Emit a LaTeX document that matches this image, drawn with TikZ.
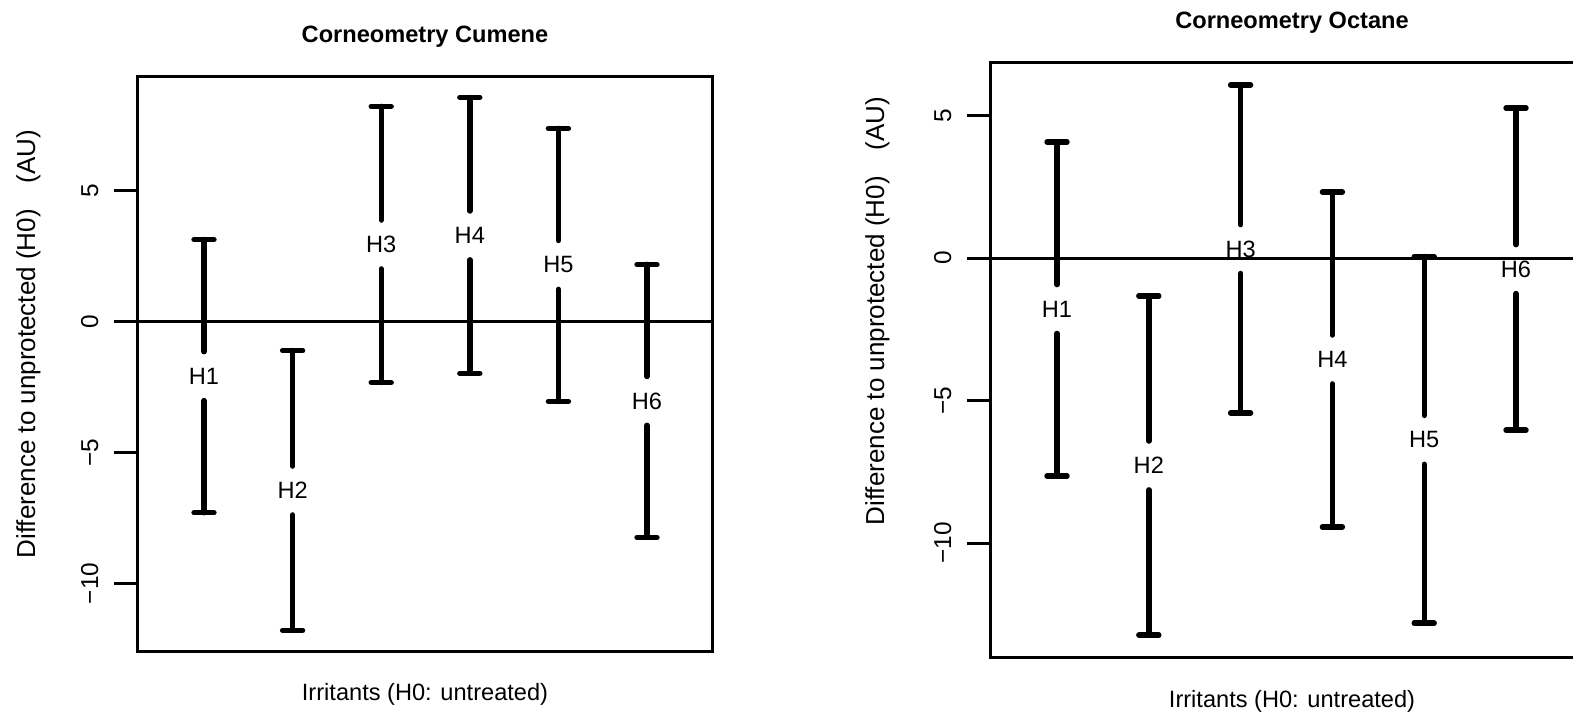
\documentclass[tikz,border=0pt]{standalone}
\usepackage{fontspec}
\setmainfont{Liberation Sans}
\usepackage{tikz}
\tikzstyle{plotFrame} = [line width=1.5pt]
\tikzstyle{zeroLine} = [line width=1.5pt]
\tikzstyle{barLine} = [line width=2.7pt, line cap=round]
\tikzstyle{plotText} = [font=\fontsize{11.8}{14}\selectfont, inner sep=0pt]
\tikzstyle{tickText} = [plotText, font=\fontsize{12.2}{14}\selectfont]
\tikzstyle{axisTitle} = [plotText, font=\fontsize{13}{15}\selectfont]
\tikzstyle{titleText} = [plotText, font=\bfseries\fontsize{11.8}{14}\selectfont]
\tikzstyle{barLabel} = [plotText, minimum height=24pt]
\newcommand{\capHalf}{5pt}
\newcommand{\errorBar}[4]{
  \node [barLabel] (#1#2) at (#2, {(#3 + #4) / 2}) {H#2};
  \draw [barLine] (#2, #3) -- (#1#2.north);
  \draw [barLine] (#1#2.south) -- (#2, #4);
  \draw [barLine] ([xshift=-\capHalf]#2, #3) -- ([xshift=\capHalf]#2, #3);
  \draw [barLine] ([xshift=-\capHalf]#2, #4) -- ([xshift=\capHalf]#2, #4);
}
\newcommand{\axisFrame}[5]{
  \draw [plotFrame] (#2, #4) rectangle (#3, #5);
  \draw [zeroLine] (#2, 0) -- (#3, 0);
  \foreach \val/\txt/\id in {5/5/a, 0/0/b, -5/−5/c, -10/−10/d} {
    \draw [plotFrame] (#2, \val) -- ++(-11.5pt, 0);
    \node [tickText, xshift=-19.5pt, rotate=90, anchor=base] (#1tick\id) at (#2, \val) {\txt};
  }
}

\begin{document}
\begin{tikzpicture}
\useasboundingbox (0,0) rectangle (786.5pt,-356pt);
\clip (0,0) rectangle (786.5pt,-356pt);

% cumene panel
\node [titleText, anchor=base] (cumTitle) at (212.5pt,-21pt) {Corneometry Cumene};
\node [plotText, anchor=base] (cumXLabel) at (212.5pt,-350pt) {Irritants (H0: untreated)};
\node [axisTitle, anchor=base, rotate=90] (cumYLabel) at (17.5pt,-172pt) {Difference to unprotected (H0)\hspace{13pt}(AU)};
\begin{scope}[shift={(57.7pt,-160.75pt)}, x=44.3pt, y=13.1pt]
  \axisFrame{cum}{0.244}{6.734}{-12.61}{9.37}
  \errorBar{cum}{1}{3.13}{-7.3}
  \errorBar{cum}{2}{-1.11}{-11.79}
  \errorBar{cum}{3}{8.21}{-2.33}
  \errorBar{cum}{4}{8.55}{-1.98}
  \errorBar{cum}{5}{7.37}{-3.05}
  \errorBar{cum}{6}{2.18}{-8.24}
\end{scope}

% octane panel
\node [titleText, anchor=base] (octTitle) at (646pt,-14pt) {Corneometry Octane};
\node [plotText, anchor=base] (octXLabel) at (646pt,-353.5pt) {Irritants (H0: untreated)};
\node [axisTitle, anchor=base, rotate=90] (octYLabel) at (442pt,-155.5pt) {Difference to unprotected (H0)\hspace{13pt}(AU)};
\begin{scope}[shift={(482.6pt,-129pt)}, x=45.9pt, y=14.25pt]
  \axisFrame{oct}{0.270}{6.85}{-14.0}{6.877}
  \errorBar{oct}{1}{4.07}{-7.65}
  \errorBar{oct}{2}{-1.33}{-13.23}
  \errorBar{oct}{3}{6.07}{-5.44}
  \errorBar{oct}{4}{2.32}{-9.44}
  \errorBar{oct}{5}{0.05}{-12.81}
  \errorBar{oct}{6}{5.26}{-6.04}
\end{scope}
\end{tikzpicture}
\end{document}
